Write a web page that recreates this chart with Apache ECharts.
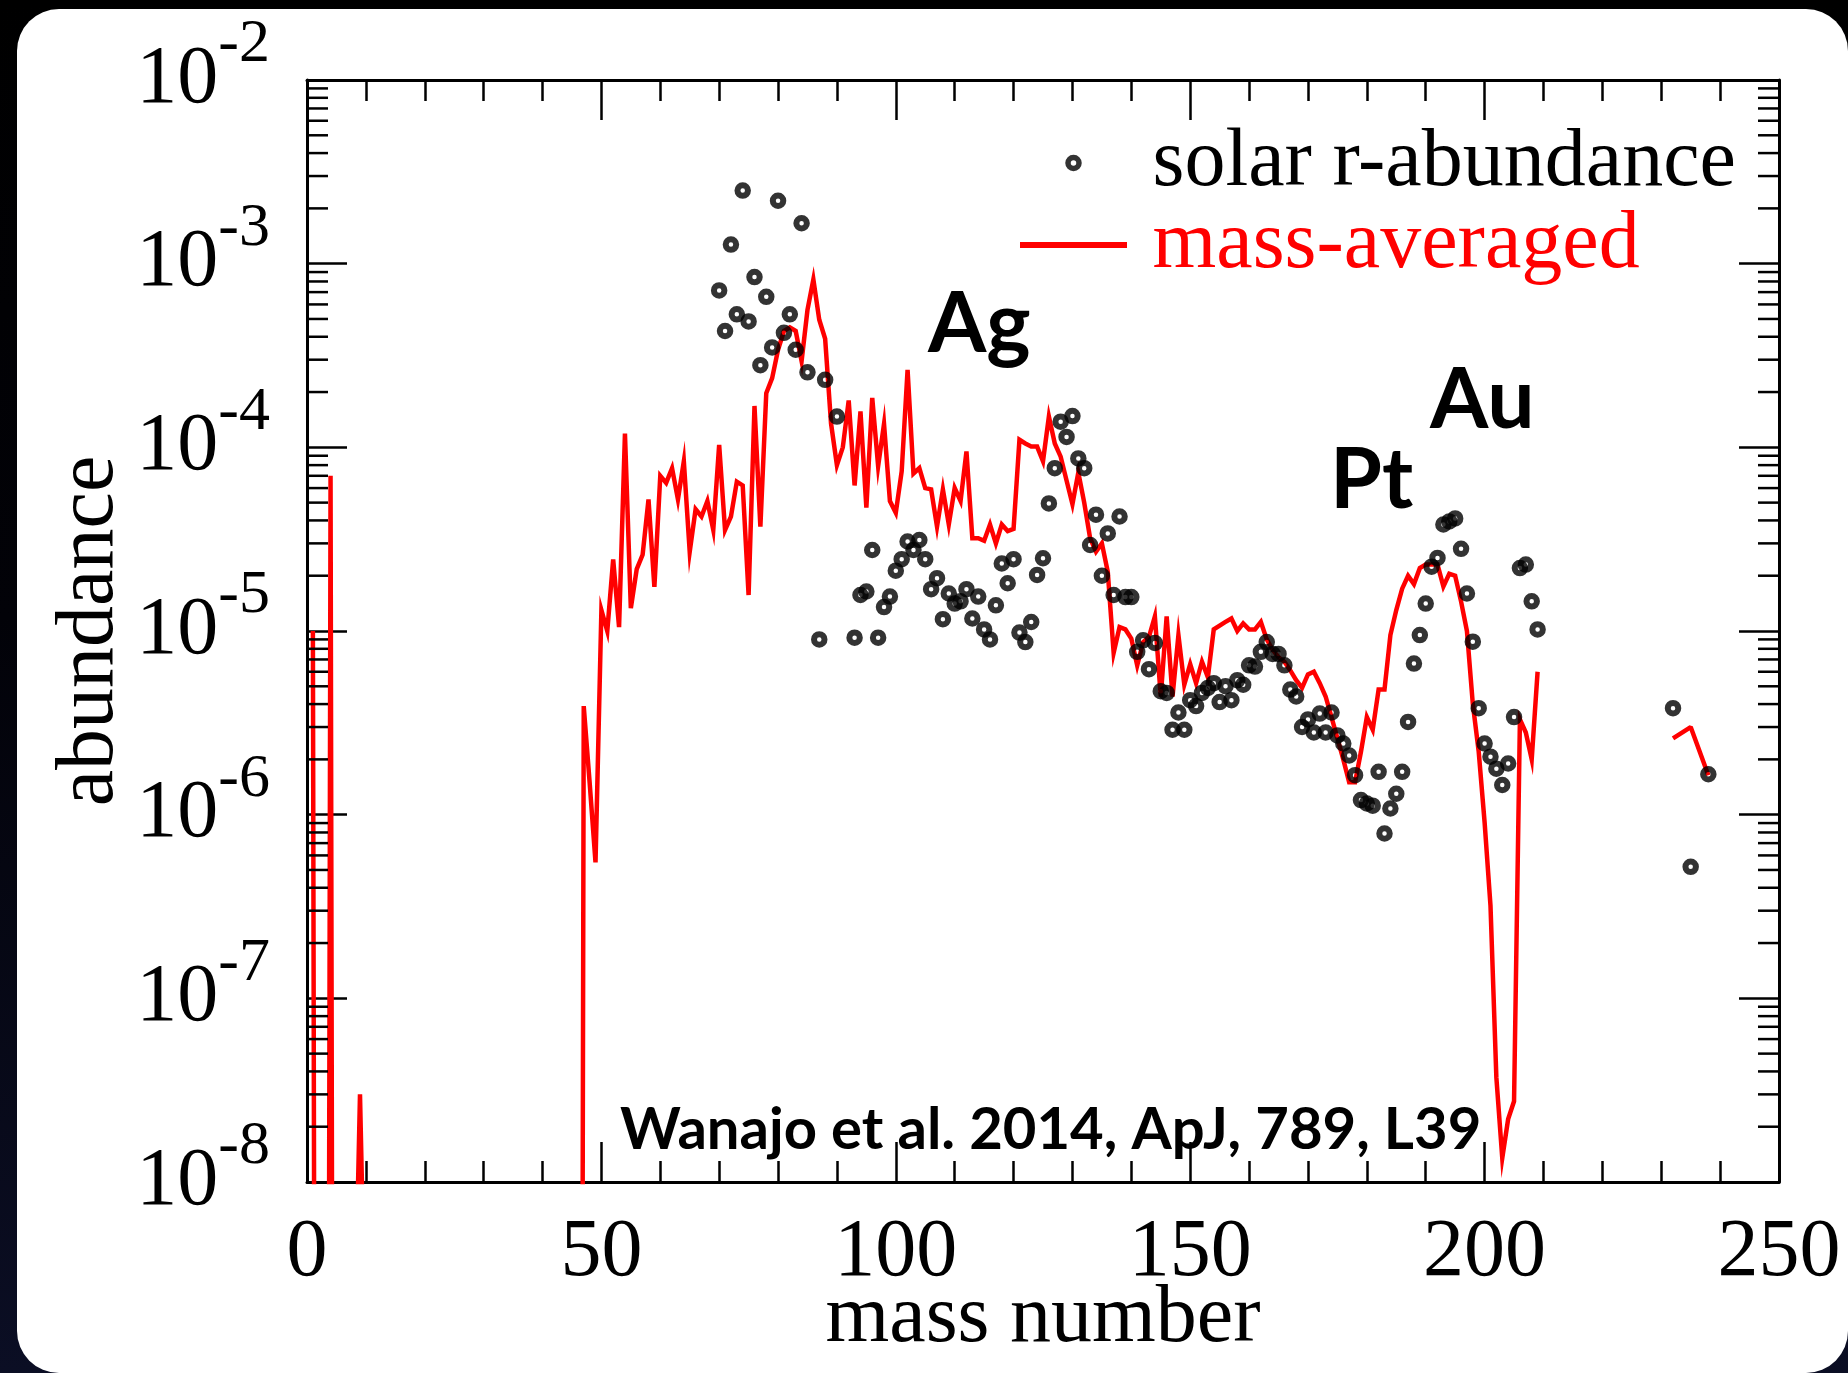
<!DOCTYPE html>
<html>
<head>
<meta charset="utf-8">
<script src="https://cdn.jsdelivr.net/npm/echarts@6/dist/echarts.min.js"></script>
<style>
  html, body { margin: 0; padding: 0; width: 1848px; height: 1373px; overflow: hidden;
    background: linear-gradient(180deg, #000 0%, #020208 45%, #0b0e24 100%); }
  #panel { position: absolute; left: 17px; top: 9px; width: 1831px; height: 1364px;
    background: #fff; border-radius: 42px; }
  #chart { position: absolute; left: 0; top: 0; width: 1848px; height: 1373px; }
</style>
</head>
<body>
<div id="panel"></div>
<div id="chart"></div>
<script>
// Solar r-process abundances: mass number and abundance
const solarA = [
  70, 71, 72, 73, 74, 75, 76, 77, 78, 79, 80, 81, 82, 83, 84, 85, 87, 88, 90,
  93, 94, 95, 96, 97, 98, 99, 100,
  101, 102, 103, 104, 105, 106, 107, 108, 109, 110,
  111, 112, 113, 114, 115, 116, 117, 118, 119, 120,
  121, 122, 123, 124, 125, 126, 127, 128, 129, 130,
  131, 132, 133, 134, 135, 136, 137, 138, 139, 140,
  141, 142, 143, 144, 145, 146, 147, 148, 149, 150,
  151, 152, 153, 154, 155, 156, 157, 158, 159, 160,
  161, 162, 163, 164, 165, 166, 167, 168, 169, 170,
  171, 172, 173, 174, 175, 176, 177, 178, 179, 180,
  181, 182, 183, 184, 185, 186, 187, 188, 189, 190,
  191, 192, 193, 194, 195, 196, 197, 198, 199, 200,
  201, 202, 203, 204, 205, 206, 207, 208, 209,
  232, 235, 238
];
const solarY = [
  7.15e-4, 4.3e-4, 1.27e-3, 5.3e-4, 2.5e-3, 4.85e-4, 8.45e-4, 2.8e-4, 6.6e-4, 3.5e-4,
  2.2e-3, 4.2e-4, 5.3e-4, 3.4e-4, 1.66e-3, 2.56e-4, 9.0e-6, 2.33e-4, 1.47e-4,
  9.2e-6, 1.57e-5, 1.64e-5, 2.76e-5, 9.2e-6, 1.35e-5, 1.54e-5, 2.13e-5,
  2.46e-5, 3.07e-5, 2.76e-5, 3.13e-5, 2.46e-5, 1.69e-5, 1.94e-5, 1.16e-5, 1.6e-5, 1.41e-5,
  1.45e-5, 1.69e-5, 1.17e-5, 1.54e-5, 1.02e-5, 9.0e-6, 1.38e-5, 2.33e-5, 1.82e-5, 2.46e-5,
  9.8e-6, 8.7e-6, 1.12e-5, 2.02e-5, 2.49e-5, 4.95e-5, 7.7e-5, 1.38e-4, 1.14e-4, 1.48e-4,
  8.7e-5, 7.7e-5, 2.94e-5, 4.3e-5, 2.0e-5, 3.4e-5, 1.57e-5, 4.2e-5, 1.53e-5, 1.53e-5,
  7.7e-6, 8.9e-6, 6.2e-6, 8.6e-6, 4.7e-6, 4.6e-6, 2.9e-6, 3.6e-6, 2.9e-6, 4.2e-6,
  3.9e-6, 4.6e-6, 4.9e-6, 5.2e-6, 4.1e-6, 5.0e-6, 4.2e-6, 5.4e-6, 5.1e-6, 6.5e-6,
  6.4e-6, 7.7e-6, 8.7e-6, 7.5e-6, 7.5e-6, 6.5e-6, 4.8e-6, 4.4e-6, 3.0e-6, 3.3e-6,
  2.8e-6, 3.55e-6, 2.8e-6, 3.6e-6, 2.7e-6, 2.44e-6, 2.1e-6, 1.64e-6, 1.2e-6, 1.15e-6,
  1.12e-6, 1.71e-6, 7.9e-7, 1.08e-6, 1.3e-6, 1.71e-6, 3.2e-6, 6.65e-6, 9.5e-6, 1.41e-5,
  2.24e-5, 2.5e-5, 3.8e-5, 3.95e-5, 4.1e-5, 2.8e-5, 1.6e-5, 8.75e-6, 3.8e-6, 2.44e-6,
  2.07e-6, 1.78e-6, 1.45e-6, 1.9e-6, 3.4e-6, 2.2e-5, 2.3e-5, 1.45e-5, 1.02e-5,
  3.8e-6, 5.2e-7, 1.66e-6
];

// Mass-averaged yields for mass numbers 1..209 (negligible values sit far below the axis)
const massAvgFirstA = 1;
const massAveraged = [
  1.0e-5, 1e-20, 1e-20, 7.0e-5, 1e-20, 1e-20, 1e-20, 1e-9, 3.0e-8, 1e-9,          // 1-10
  1e-20, 1e-20, 1e-20, 1e-20, 1e-20, 1e-20, 1e-20, 1e-20, 1e-20, 1e-20,           // 11-20
  1e-20, 1e-20, 1e-20, 1e-20, 1e-20, 1e-20, 1e-20, 1e-20, 1e-20, 1e-20,           // 21-30
  1e-20, 1e-20, 1e-20, 1e-20, 1e-20, 1e-20, 1e-20, 1e-20, 1e-20, 1e-20,           // 31-40
  1e-20, 1e-20, 1e-20, 1e-20, 1e-20, 1e-20, 3.9e-6, 1.5e-6, 5.5e-7, 1.3e-5,       // 41-50
  1.0e-5, 2.45e-5, 1.05e-5, 1.19e-4, 1.33e-5, 2.17e-5, 2.6e-5, 5.2e-5, 1.74e-5, 7.0e-5,   // 51-60
  6.4e-5, 7.7e-5, 5.2e-5, 8.4e-5, 2.7e-5, 4.6e-5, 4.2e-5, 5.1e-5, 3.55e-5, 1.03e-4,      // 61-70
  3.55e-5, 4.2e-5, 6.5e-5, 6.2e-5, 1.57e-5, 1.68e-4, 3.7e-5, 1.97e-4, 2.38e-4, 3.4e-4,   // 71-80
  4.3e-4, 4.5e-4, 4.3e-4, 2.95e-4, 5.6e-4, 8.2e-4, 4.95e-4, 3.9e-4, 1.35e-4, 8.0e-5,     // 81-90
  1.0e-4, 1.8e-4, 6.2e-5, 1.57e-4, 4.7e-5, 1.86e-4, 7.9e-5, 1.34e-4, 5.1e-5, 4.4e-5,     // 91-100
  7.4e-5, 2.64e-4, 7.2e-5, 7.7e-5, 6.0e-5, 5.9e-5, 3.7e-5, 5.9e-5, 3.8e-5, 6.0e-5,       // 101-110
  5.1e-5, 9.5e-5, 3.2e-5, 3.2e-5, 3.1e-5, 3.8e-5, 3.0e-5, 3.8e-5, 3.5e-5, 3.6e-5,       // 111-120
  1.1e-4, 1.05e-4, 1.01e-4, 1.01e-4, 8.4e-5, 1.47e-4, 1.05e-4, 8.9e-5, 6.6e-5, 4.9e-5,   // 121-130
  7.3e-5, 5.0e-5, 3.2e-5, 2.7e-5, 3.0e-5, 2.1e-5, 7.6e-6, 1.05e-5, 1.02e-5, 9.1e-6,      // 131-140
  6.5e-6, 8.7e-6, 9.3e-6, 1.2e-5, 4.4e-6, 1.2e-5, 4.4e-6, 9.5e-6, 5.1e-6, 6.6e-6,        // 141-150
  5.2e-6, 6.8e-6, 5.6e-6, 1.02e-5, 1.07e-5, 1.12e-5, 1.17e-5, 1.0e-5, 1.1e-5, 1.02e-5,   // 151-160
  1.02e-5, 1.12e-5, 9.0e-6, 7.9e-6, 7.2e-6, 6.8e-6, 6.1e-6, 5.4e-6, 4.9e-6, 5.8e-6,      // 161-170
  6.0e-6, 5.2e-6, 4.4e-6, 3.4e-6, 2.6e-6, 2.0e-6, 1.5e-6, 1.5e-6, 2.2e-6, 3.4e-6,        // 171-180
  2.9e-6, 4.8e-6, 4.8e-6, 9.5e-6, 1.3e-5, 1.7e-5, 2.0e-5, 1.8e-5, 2.2e-5, 2.3e-5,        // 181-190
  2.3e-5, 2.3e-5, 1.75e-5, 2.05e-5, 2.0e-5, 1.45e-5, 1.0e-5, 4.0e-6, 2.2e-6, 9.1e-7,     // 191-200
  3.2e-7, 3.7e-8, 1.35e-8, 2.2e-8, 2.75e-8, 3.3e-6, 2.8e-6, 2.0e-6, 6.0e-6               // 201-209
];
// Thorium / uranium mass-averaged values
const actinideA = [232, 235, 238];
const actinideY = [2.6e-6, 3.0e-6, 1.64e-6];

// Axis settings
const xTickLabels = [0, 50, 100, 150, 200, 250];
const yDecades = [-8, -7, -6, -5, -4, -3, -2];
const minorMantissas = [2, 3, 4, 5, 6, 7, 8, 9];

const SERIF = '"Liberation Serif", "Times New Roman", serif';
const SANS = 'Lato, "Open Sans", sans-serif';

const yMinorTicks = [];
yDecades.slice(0, -1).forEach(d => minorMantissas.forEach(m => yMinorTicks.push(m * Math.pow(10, d))));

const chart = echarts.init(document.getElementById('chart'), null, { renderer: 'canvas' });

const axisLine = { show: true, onZero: false, lineStyle: { color: '#000', width: 3 } };
const majorTick = { show: true, inside: true, length: 40, lineStyle: { color: '#000', width: 2.5 } };
const minorTick = { show: true, splitNumber: 5, length: 21, lineStyle: { color: '#000', width: 2.5 } };

function xAxisDef(pos, withLabels) {
  return {
    type: 'value', position: pos, min: xTickLabels[0], max: xTickLabels[xTickLabels.length - 1], interval: 50,
    axisLine, axisTick: majorTick, minorTick,
    splitLine: { show: false }, minorSplitLine: { show: false },
    axisLabel: withLabels ? {
      show: true, margin: 30, fontFamily: SERIF, fontSize: 82, lineHeight: 82, color: '#000',
      showMinLabel: true, showMaxLabel: true
    } : { show: false },
    name: withLabels ? 'mass number' : '', nameLocation: 'middle', nameGap: 96, nameMoveOverlap: false,
    nameTextStyle: { fontFamily: SERIF, fontSize: 82, lineHeight: 82, color: '#000' }
  };
}
function yAxisDef(pos, withLabels) {
  return {
    type: 'log', logBase: 10, position: pos,
    min: Math.pow(10, yDecades[0]), max: Math.pow(10, yDecades[yDecades.length - 1]), splitNumber: 6,
    axisLine, axisTick: majorTick, minorTick: { show: false },
    splitLine: { show: false }, minorSplitLine: { show: false },
    axisLabel: withLabels ? {
      show: true, margin: 37, showMinLabel: true, showMaxLabel: true,
      formatter: v => '{b|10}{s|' + Math.round(Math.log10(v)) + '}',
      rich: {
        b: { fontFamily: SERIF, fontSize: 82, lineHeight: 132, color: '#000' },
        s: { fontFamily: SERIF, fontSize: 62, lineHeight: 62, color: '#000', verticalAlign: 'top' }
      }
    } : { show: false },
    name: withLabels ? 'abundance' : '', nameLocation: 'middle', nameGap: 176, nameMoveOverlap: false,
    nameTextStyle: { fontFamily: SERIF, fontSize: 82, lineHeight: 82, color: '#000' }
  };
}

const option = {
  animation: false,
  backgroundColor: 'transparent',
  grid: { left: 307, right: 69, top: 80, bottom: 191, containLabel: false, outerBoundsMode: 'none' },
  xAxis: [xAxisDef('bottom', true), xAxisDef('top', false)],
  yAxis: [yAxisDef('left', true), yAxisDef('right', false)],
  legend: {
    show: true, orient: 'vertical', left: 1020, top: 122, padding: 0, itemGap: 0,
    itemWidth: 107, itemHeight: 11, selectedMode: false,
    formatter: n => '\u00a0' + n,
    textStyle: { fontFamily: SERIF, fontSize: 82, lineHeight: 74 },
    data: [
      { name: 'solar r-abundance', icon: 'circle',
        itemStyle: { color: 'transparent', borderColor: '#000', borderWidth: 5.5 },
        textStyle: { color: '#000' } },
      { name: 'mass-averaged', icon: 'path://M0,0H107V6H0Z',
        itemStyle: { color: '#ff0000', borderWidth: 0 },
        textStyle: { color: '#ff0000' } }
    ]
  },
  series: [
    {
      name: 'mass-averaged', type: 'line', xAxisIndex: 0, yAxisIndex: 0,
      data: massAveraged.map((v, i) => [massAvgFirstA + i, v]),
      showSymbol: false, symbol: 'none', clip: true,
      lineStyle: { color: '#ff0000', width: 4.5, join: 'miter' },
      itemStyle: { color: '#ff0000' }, z: 2
    },
    {
      name: 'mass-averaged', type: 'line', xAxisIndex: 0, yAxisIndex: 0,
      data: actinideA.map((a, i) => [a, actinideY[i]]),
      showSymbol: false, symbol: 'none', clip: true,
      lineStyle: { color: '#ff0000', width: 4.5 },
      itemStyle: { color: '#ff0000' }, z: 2
    },
    {
      name: 'solar r-abundance', type: 'scatter', xAxisIndex: 0, yAxisIndex: 0,
      data: solarA.map((a, i) => [a, solarY[i]]),
      symbol: 'circle', symbolSize: 10.5,
      itemStyle: { color: 'transparent', borderColor: '#000', borderWidth: 6 }, z: 3
    },
    {
      // logarithmic minor ticks on the left and right frame edges
      type: 'custom', xAxisIndex: 0, yAxisIndex: 0, silent: true, clip: false, z: 4,
      data: yMinorTicks.map(v => [xTickLabels[0], v]),
      renderItem: (params, api) => {
        const v = api.value(1);
        const l = api.coord([xTickLabels[0], v]);
        const r = api.coord([xTickLabels[xTickLabels.length - 1], v]);
        const st = { stroke: '#000', lineWidth: 2.5 };
        return {
          type: 'group', children: [
            { type: 'line', shape: { x1: l[0], y1: l[1], x2: l[0] + 21, y2: l[1] }, style: st },
            { type: 'line', shape: { x1: r[0] - 21, y1: r[1], x2: r[0], y2: r[1] }, style: st }
          ]
        };
      }
    }
  ],
  graphic: [
    { type: 'text', x: 928, y: 325, z: 100,
      style: { text: 'Ag', font: 'bold 84px ' + SANS, fill: '#000', align: 'left', verticalAlign: 'middle' } },
    { type: 'text', x: 1430, y: 401, z: 100,
      style: { text: 'Au', font: 'bold 84px ' + SANS, fill: '#000', align: 'left', verticalAlign: 'middle' } },
    { type: 'text', x: 1330, y: 481, z: 100,
      style: { text: 'Pt', font: 'bold 84px ' + SANS, fill: '#000', align: 'left', verticalAlign: 'middle' } },
    { type: 'text', x: 620, y: 1130, z: 100,
      style: { text: 'Wanajo et al. 2014, ApJ, 789, L39', font: 'bold 58px ' + SANS, fill: '#000', align: 'left', verticalAlign: 'middle' } }
  ]
};

chart.setOption(option);
</script>
</body>
</html>
